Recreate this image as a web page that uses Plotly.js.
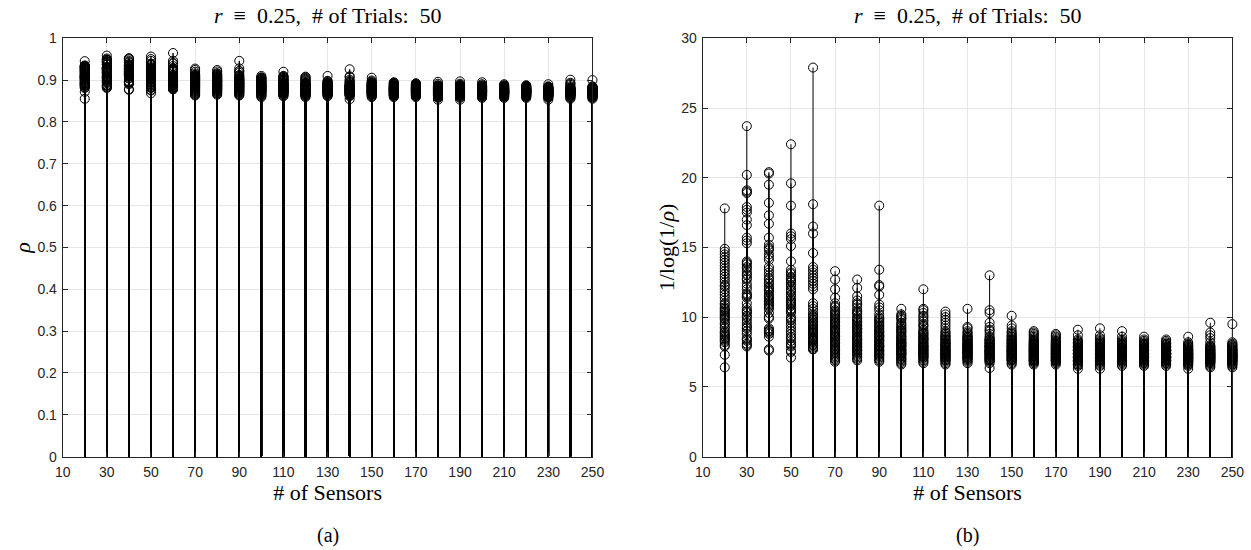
<!DOCTYPE html>
<html>
<head>
<meta charset="utf-8">
<script src="https://cdn.plot.ly/plotly-3.0.1.min.js"></script>
<style>html,body{margin:0;padding:0;background:#fff;}#chart{width:1251px;height:550px;}</style>
</head>
<body>
<div id="chart"></div>
<script>
// Number of sensors (x positions of the stems)
const sensors = [20, 30, 40, 50, 60, 70, 80, 90, 100, 110, 120, 130, 140, 150, 160, 170, 180, 190, 200, 210, 220, 230, 240, 250];
const xTickVals = [10, 30, 50, 70, 90, 110, 130, 150, 170, 190, 210, 230, 250];

// 1/log(1/rho) for each of the 50 trials, per number of sensors
const v20 = [17.8,14.9,14.7,14.5,14.3,14.1,13.9,13.7,13.5,13.3,13.1,12.9,12.7,12.5,12.3,12.2,12.0,11.8,11.6,11.4,11.2,11.0,10.9,10.7,10.6,10.5,10.4,10.3,10.2,10.1,10.0,9.9,9.8,9.6,9.5,9.3,9.2,9.0,8.9,8.8,8.7,8.6,8.5,8.4,8.3,8.2,8.0,7.9,7.3,6.4];
const v30 = [23.7,20.2,19.1,19.0,18.9,17.9,17.7,17.5,17.0,16.6,15.7,15.5,15.3,14.0,13.9,13.8,13.6,13.5,13.3,13.1,13.0,12.8,12.7,12.4,12.0,11.7,11.6,11.5,11.4,11.0,10.7,10.5,10.4,10.3,10.1,10.0,9.8,9.6,9.4,9.3,9.2,9.0,8.8,8.5,8.4,8.3,8.1,8.0,7.9,12.2];
const v40 = [20.4,20.3,19.5,18.2,17.3,16.7,15.7,15.2,15.0,14.8,14.5,14.3,14.1,13.4,13.2,13.0,12.8,12.7,12.2,12.0,11.9,11.8,11.6,11.5,11.3,11.2,11.0,10.9,10.8,10.6,10.3,10.0,9.9,9.2,9.1,9.0,8.9,8.8,8.6,7.7,7.6,12.4,12.5,13.6,14.9,11.4,11.1,10.7,12.1,9.0];
const v50 = [22.4,19.6,18.0,16.0,15.8,15.6,15.1,14.0,13.4,13.2,13.1,12.9,12.8,12.6,12.5,12.3,12.2,12.0,11.9,11.8,11.6,11.5,11.3,11.2,11.0,10.9,10.8,10.6,10.5,10.4,10.3,10.0,9.8,9.6,9.4,9.2,9.0,8.8,8.6,8.5,8.3,8.1,8.0,7.9,7.6,7.5,7.1,12.7,11.1,9.9];
const v60 = [27.9,18.1,16.5,16.0,14.6,13.6,13.4,13.2,13.0,12.8,12.6,12.4,12.2,12.0,11.0,10.8,10.6,10.4,10.2,10.0,9.9,9.8,9.6,9.5,9.4,9.3,9.2,9.1,9.0,8.9,8.8,8.7,8.6,8.5,8.4,8.3,8.2,8.1,8.0,7.9,7.8,7.7,7.7,9.7,8.9,8.5,9.1,10.1,8.4,8.0];
const v70 = [13.3,12.7,12.0,11.4,11.0,10.8,10.7,10.5,10.4,10.2,10.1,10.0,9.9,9.8,9.7,9.6,9.5,9.4,9.3,9.2,9.1,9.0,8.9,8.8,8.7,8.6,8.5,8.4,8.3,8.2,8.1,8.0,7.9,7.8,7.7,7.6,7.5,7.4,7.3,7.2,7.1,7.0,6.9,6.8,9.6,9.0,8.6,8.2,7.7,10.3];
const v80 = [12.7,12.1,11.5,11.2,11.0,10.9,10.7,10.5,10.4,10.2,10.0,9.9,9.8,9.7,9.5,9.4,9.3,9.2,9.1,9.0,8.9,8.8,8.7,8.6,8.5,8.4,8.3,8.2,8.1,8.0,7.9,7.8,7.7,7.6,7.5,7.4,7.3,7.2,7.1,7.0,6.9,9.6,9.0,8.5,8.0,7.6,10.3,9.2,8.3,7.8];
const v90 = [18.0,13.4,12.3,12.2,11.6,10.9,10.7,10.5,10.2,10.0,9.9,9.7,9.6,9.4,9.3,9.2,9.1,9.0,8.9,8.8,8.7,8.6,8.5,8.4,8.3,8.2,8.1,8.0,7.9,7.8,7.7,7.6,7.5,7.4,7.3,7.2,7.1,7.0,6.9,6.8,9.5,9.0,8.6,8.3,8.0,7.6,7.3,9.8,8.7,7.9];
const v100 = [10.6,10.2,10.1,10.0,9.9,9.8,9.6,9.5,9.4,9.3,9.2,9.1,9.0,8.9,8.8,8.7,8.6,8.5,8.4,8.3,8.2,8.1,8.0,7.9,7.8,7.7,7.6,7.5,7.4,7.3,7.2,7.1,7.0,6.9,6.8,6.7,6.6,8.6,8.2,7.9,7.6,7.3,7.0,8.4,8.0,7.7,7.5,9.0,8.1,7.4];
const v110 = [12.0,10.6,10.5,10.3,10.1,10.0,9.8,9.7,9.5,9.4,9.3,9.1,9.0,8.9,8.8,8.7,8.6,8.5,8.4,8.3,8.2,8.1,8.0,7.9,7.8,7.7,7.6,7.5,7.4,7.3,7.2,7.1,7.0,6.9,6.8,6.7,8.5,8.2,7.9,7.6,7.3,8.0,7.7,7.4,7.1,8.8,8.4,7.8,7.5,7.2];
const v120 = [10.4,10.2,10.0,9.8,9.6,9.4,9.2,9.0,8.9,8.8,8.7,8.6,8.5,8.4,8.3,8.2,8.1,8.0,7.9,7.8,7.7,7.6,7.5,7.4,7.3,7.2,7.1,7.0,6.9,6.8,6.7,6.6,8.4,8.1,7.8,7.6,7.4,7.2,7.0,8.0,7.7,7.5,7.3,7.1,8.2,7.9,7.6,7.3,6.9,8.6];
const v130 = [10.6,9.3,9.2,9.0,8.9,8.8,8.7,8.6,8.5,8.4,8.3,8.2,8.1,8.0,7.9,7.8,7.7,7.6,7.5,7.4,7.3,7.2,7.1,7.0,6.9,6.8,6.7,8.5,8.2,8.0,7.8,7.6,7.4,7.2,7.0,8.3,8.1,7.9,7.7,7.5,7.3,7.1,8.4,8.0,7.7,7.4,7.1,8.6,7.8,7.5];
const v140 = [13.0,10.5,10.3,9.6,9.3,9.0,8.6,8.5,8.4,8.3,8.2,8.1,8.0,7.9,7.8,7.7,7.6,7.5,7.4,7.3,7.2,7.1,7.0,6.9,6.8,6.7,6.35,8.4,8.1,7.9,7.7,7.5,7.3,7.1,6.9,8.2,8.0,7.8,7.6,7.4,7.2,7.0,8.3,7.9,7.6,7.3,7.0,8.8,9.1,7.5];
const v150 = [10.1,9.4,9.2,9.0,8.9,8.8,8.7,8.6,8.5,8.4,8.3,8.2,8.1,8.0,7.9,7.8,7.7,7.6,7.5,7.4,7.3,7.2,7.1,7.0,6.9,6.8,6.7,6.6,8.4,8.1,7.9,7.7,7.5,7.3,7.1,6.9,8.2,8.0,7.8,7.6,7.4,7.2,7.0,8.3,7.9,7.6,7.3,7.0,8.6,7.5];
const v160 = [9.0,8.9,8.8,8.7,8.6,8.5,8.4,8.3,8.2,8.1,8.0,7.9,7.8,7.7,7.6,7.5,7.4,7.3,7.2,7.1,7.0,6.9,6.8,6.7,6.6,8.3,8.0,7.8,7.6,7.4,7.2,7.0,6.8,8.1,7.9,7.7,7.5,7.3,7.1,6.9,8.2,7.8,7.5,7.2,6.9,8.0,7.6,7.3,7.0,7.7];
const v170 = [8.8,8.7,8.6,8.5,8.4,8.3,8.2,8.1,8.0,7.9,7.8,7.7,7.6,7.5,7.4,7.3,7.2,7.1,7.0,6.9,6.8,6.7,6.6,8.2,8.0,7.8,7.6,7.4,7.2,7.0,6.8,8.1,7.9,7.7,7.5,7.3,7.1,6.9,8.0,7.7,7.4,7.1,6.9,7.8,7.5,7.2,7.6,7.3,7.0,8.3];
const v180 = [9.1,8.7,8.4,8.3,8.2,8.1,8.0,7.9,7.8,7.7,7.6,7.5,7.4,7.3,7.2,7.1,7.0,6.9,6.8,6.7,6.6,6.5,6.3,8.2,8.0,7.8,7.6,7.4,7.2,7.0,6.8,8.1,7.9,7.7,7.5,7.3,7.1,6.9,7.8,7.5,7.2,6.9,7.6,7.3,7.0,7.7,7.4,7.1,6.6,8.0];
const v190 = [9.2,8.7,8.5,8.4,8.3,8.2,8.1,8.0,7.9,7.8,7.7,7.6,7.5,7.4,7.3,7.2,7.1,7.0,6.9,6.8,6.7,6.6,6.5,6.3,8.2,8.0,7.8,7.6,7.4,7.2,7.0,6.8,8.1,7.9,7.7,7.5,7.3,7.1,6.9,7.8,7.5,7.2,6.9,7.6,7.3,7.0,7.7,7.4,7.1,8.0];
const v200 = [9.0,8.6,8.4,8.3,8.2,8.1,8.0,7.9,7.8,7.7,7.6,7.5,7.4,7.3,7.2,7.1,7.0,6.9,6.8,6.7,6.6,6.5,8.2,8.0,7.8,7.6,7.4,7.2,7.0,6.8,8.1,7.9,7.7,7.5,7.3,7.1,6.9,7.8,7.5,7.2,6.9,7.6,7.3,7.0,7.7,7.4,7.1,8.0,7.5,7.3];
const v210 = [8.6,8.4,8.3,8.2,8.1,8.0,7.9,7.8,7.7,7.6,7.5,7.4,7.3,7.2,7.1,7.0,6.9,6.8,6.7,6.6,6.5,8.1,7.9,7.7,7.5,7.3,7.1,6.9,6.7,8.0,7.8,7.6,7.4,7.2,7.0,6.8,7.7,7.4,7.1,6.9,7.5,7.2,7.0,7.6,7.3,7.8,7.4,7.1,7.5,7.2];
const v220 = [8.4,8.3,8.2,8.1,8.0,7.9,7.8,7.7,7.6,7.5,7.4,7.3,7.2,7.1,7.0,6.9,6.8,6.7,6.6,6.5,8.1,7.9,7.7,7.5,7.3,7.1,6.9,6.7,8.0,7.8,7.6,7.4,7.2,7.0,6.8,7.7,7.4,7.1,6.9,7.5,7.2,7.0,7.6,7.3,7.8,7.4,7.1,7.5,7.2,7.3];
const v230 = [8.6,8.2,8.1,8.0,7.9,7.8,7.7,7.6,7.5,7.4,7.3,7.2,7.1,7.0,6.9,6.8,6.7,6.6,6.5,6.3,8.0,7.8,7.6,7.4,7.2,7.0,6.8,6.6,7.9,7.7,7.5,7.3,7.1,6.9,6.7,7.6,7.3,7.0,6.8,7.4,7.1,6.9,7.5,7.2,7.7,7.3,7.0,7.4,7.1,7.2];
const v240 = [9.6,8.9,8.5,8.2,8.0,7.9,7.8,7.7,7.6,7.5,7.4,7.3,7.2,7.1,7.0,6.9,6.8,6.7,6.6,6.5,6.4,7.9,7.7,7.5,7.3,7.1,6.9,6.7,7.8,7.6,7.4,7.2,7.0,6.8,7.6,7.3,7.0,6.8,7.4,7.1,6.9,7.5,7.2,7.7,7.3,7.0,7.4,7.1,7.2,8.7];
const v250 = [9.5,8.2,8.1,8.0,7.9,7.8,7.7,7.6,7.5,7.4,7.3,7.2,7.1,7.0,6.9,6.8,6.7,6.6,6.5,6.4,8.0,7.8,7.6,7.4,7.2,7.0,6.8,6.6,7.9,7.7,7.5,7.3,7.1,6.9,6.7,7.6,7.3,7.0,6.8,7.4,7.1,6.9,7.5,7.2,7.7,7.3,7.0,7.4,7.1,7.2];

const trialGroups = [v20, v30, v40, v50, v60, v70, v80, v90, v100, v110, v120, v130, v140, v150, v160, v170, v180, v190, v200, v210, v220, v230, v240, v250];

// Panel (a) shows rho itself for the same trials: rho = exp(-1 / (1/log(1/rho)))
function toRho(v) { return Math.exp(-1 / v); }

function stems(transform) {
  const sx = [], sy = [], mx = [], my = [];
  trialGroups.forEach((g, i) => {
    g.forEach(v => {
      const y = transform(v);
      sx.push(sensors[i], sensors[i], null);
      sy.push(0, y, null);
      mx.push(sensors[i]);
      my.push(y);
    });
  });
  return { sx, sy, mx, my };
}

const A = stems(toRho);
const B = stems(v => v);

const mk = { symbol: 'circle-open', size: 9, color: '#000', line: { width: 1, color: '#000' } };

const traces = [
  { x: A.sx, y: A.sy, mode: 'lines', line: { color: '#000', width: 1.4 }, xaxis: 'x', yaxis: 'y', hoverinfo: 'skip', showlegend: false },
  { x: A.mx, y: A.my, mode: 'markers', marker: mk, xaxis: 'x', yaxis: 'y', cliponaxis: false, showlegend: false },
  { x: B.sx, y: B.sy, mode: 'lines', line: { color: '#000', width: 1 }, xaxis: 'x2', yaxis: 'y2', hoverinfo: 'skip', showlegend: false },
  { x: B.mx, y: B.my, mode: 'markers', marker: mk, xaxis: 'x2', yaxis: 'y2', cliponaxis: false, showlegend: false }
];

const tickFont = { family: 'Liberation Sans, Arial, sans-serif', size: 14, color: '#262626' };
const serif = 'Liberation Serif, Times New Roman, serif';
const labelFont = { family: serif, size: 22, color: '#000' };

function xAxis(domain, anchor) {
  return {
    domain: domain, anchor: anchor, range: [10, 250], tickvals: xTickVals,
    ticks: 'inside', ticklen: 5, tickcolor: '#262626', mirror: 'ticks',
    showline: true, linecolor: '#262626', linewidth: 1,
    showgrid: true, gridcolor: '#e6e6e6', zeroline: false,
    tickfont: tickFont, ticklabelstandoff: 3,
    title: { text: '# of Sensors', font: labelFont, standoff: 0 }
  };
}
function yAxis(anchor, range, dtick, title, standoff) {
  return {
    domain: [0.1698, 0.9304], anchor: anchor, range: range, dtick: dtick,
    ticks: 'inside', ticklen: 5, tickcolor: '#262626', mirror: 'ticks',
    showline: true, linecolor: '#262626', linewidth: 1,
    showgrid: true, gridcolor: '#e6e6e6', zeroline: false,
    tickfont: tickFont, ticklabelstandoff: 2,
    title: { text: title, font: labelFont, standoff: standoff }
  };
}

const titleText = '<i>r</i>\u2002≡\u20020.25,\u2002# of Trials:\u200250';
const layout = {
  width: 1251, height: 550,
  margin: { l: 0, r: 0, t: 0, b: 0 },
  paper_bgcolor: '#fff', plot_bgcolor: '#fff',
  showlegend: false,
  xaxis: xAxis([0.0501, 0.4736], 'y'),
  yaxis: yAxis('x', [0, 1], 0.1, '<i>ρ</i>', 0),
  xaxis2: xAxis([0.5617, 0.9851], 'y2'),
  yaxis2: yAxis('x2', [0, 30], 5, '1/log(1/<i>ρ</i>)', 0),
  annotations: [
    { text: titleText, xref: 'paper', yref: 'paper', x: 0.2619, y: 0.972, xanchor: 'center', yanchor: 'middle', showarrow: false, borderpad: 0, font: labelFont },
    { text: titleText, xref: 'paper', yref: 'paper', x: 0.7734, y: 0.972, xanchor: 'center', yanchor: 'middle', showarrow: false, borderpad: 0, font: labelFont },
    { text: '(a)', xref: 'paper', yref: 'paper', x: 0.2619, y: 0.026, xanchor: 'center', yanchor: 'middle', showarrow: false, borderpad: 0, font: { family: serif, size: 20, color: '#000' } },
    { text: '(b)', xref: 'paper', yref: 'paper', x: 0.7734, y: 0.026, xanchor: 'center', yanchor: 'middle', showarrow: false, borderpad: 0, font: { family: serif, size: 20, color: '#000' } }
  ]
};

Plotly.newPlot('chart', traces, layout, { displayModeBar: false, staticPlot: true });
</script>
</body>
</html>
